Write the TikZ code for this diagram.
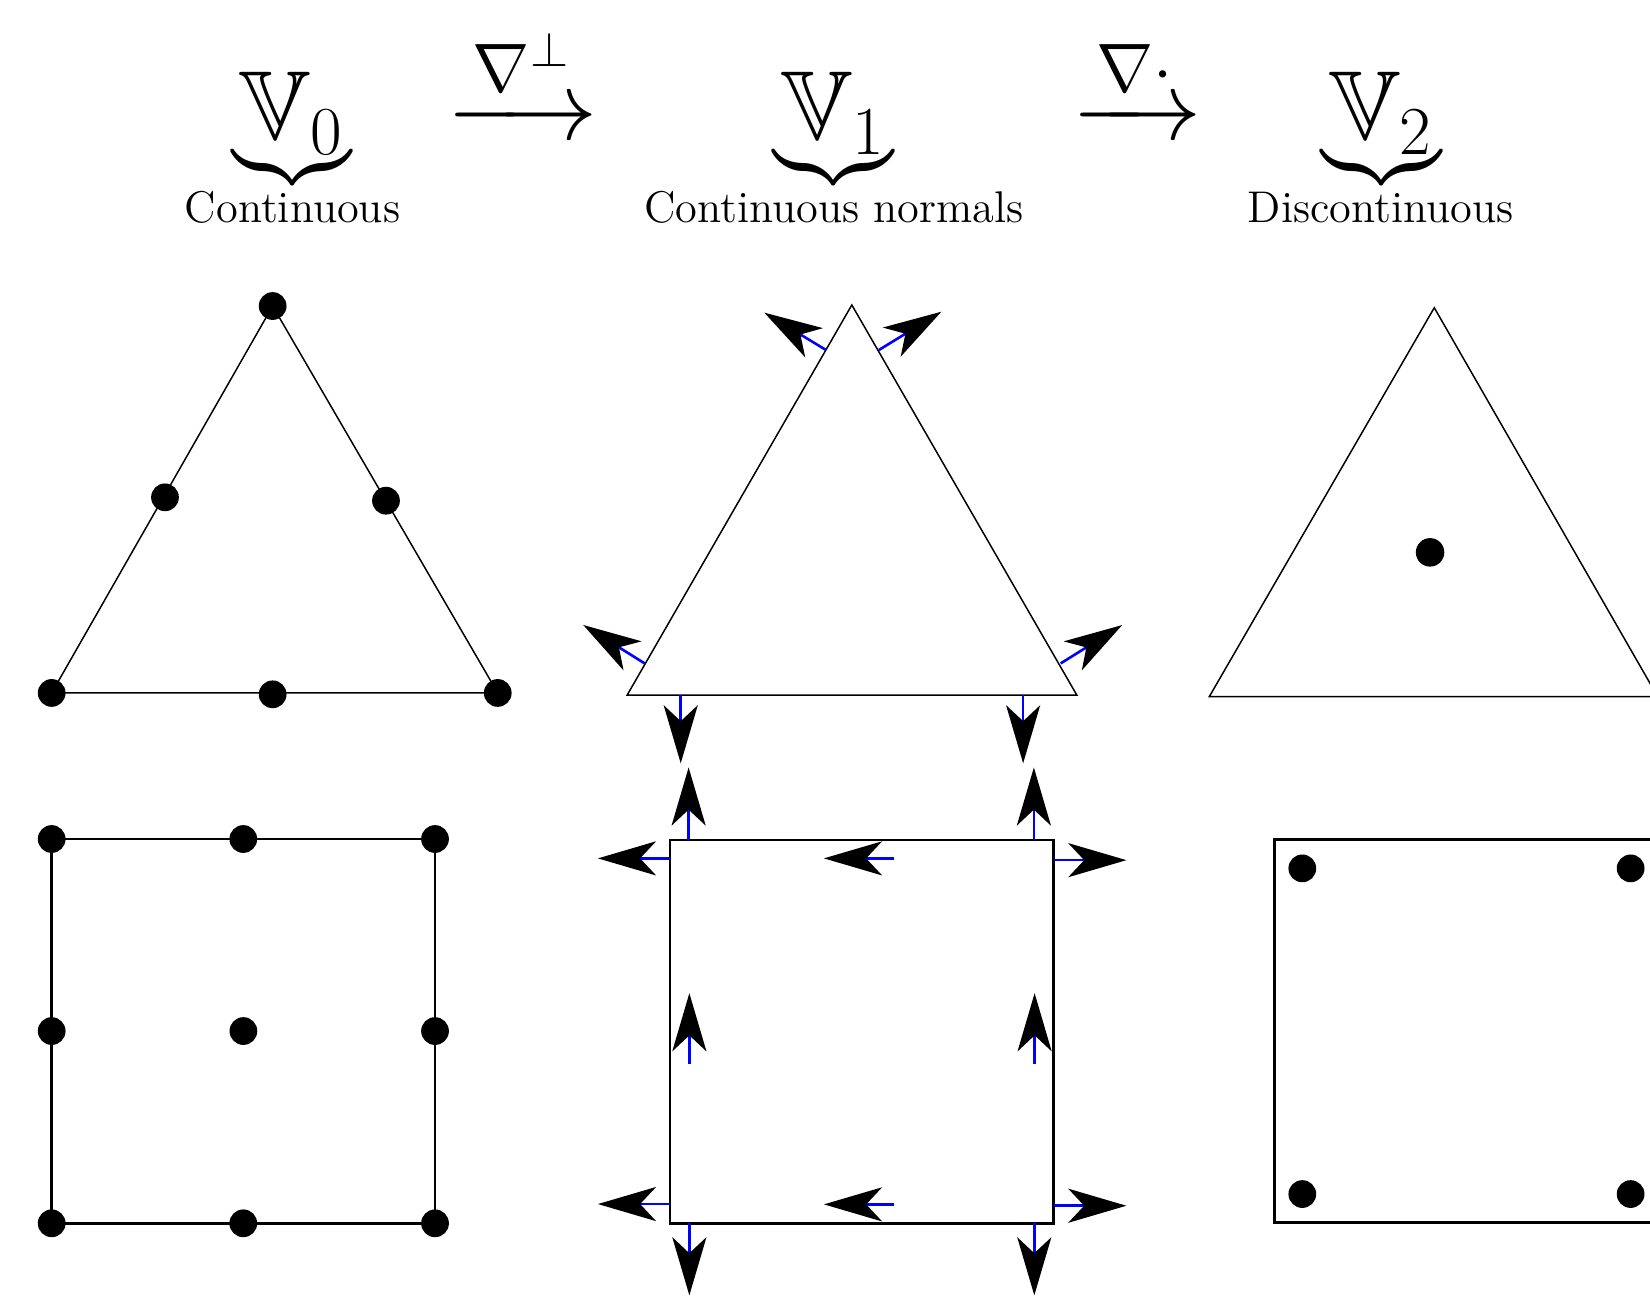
\RequirePackage{fix-cm}
\documentclass[tikz,border=0pt]{standalone}
\usepackage{amsmath,amssymb}
\usetikzlibrary{arrows.meta}
\begin{document}
\begin{tikzpicture}[x=0.01cm,y=-0.01cm,
  tri/.style={line width=0.4pt, line join=miter},
  sq/.style={line width=0.75pt},
  dot/.style={circle, fill=black, draw=none, inner sep=0pt, minimum size=7.5pt},
  nrm/.style={draw=blue, line width=0.7pt, -{Stealth[length=15.7pt, width=9.2pt, inset=4.3pt, black]}},
  mth/.style={font=\fontsize{26.5}{30}\selectfont, anchor=base, inner sep=0pt},
  brc/.style={font=\fontsize{18}{20}\selectfont, anchor=base, inner sep=0pt},
  lbl/.style={font=\fontsize{12}{14}\selectfont, anchor=base, inner sep=0pt}]
\useasboundingbox (0,0) rectangle (1568,1232);
\clip (0,0) rectangle (1568,1232);

% ---------- top row ----------
\node[mth] (V0) at (277.5,133) {$\mathbb{V}_0$};
\node[brc] (B0) at (277.5,145) {$\underbrace{\hbox{}}$};
\node[mth] (d1) at (496.5,133) {$\xrightarrow{\hphantom{\nabla^{\perp}}}$};
\node[mth] (l1) at (495.5,87) {$\scriptstyle\nabla^{\perp}$};
\node[mth] (V1) at (792.5,133) {$\mathbb{V}_1$};
\node[brc] (B1) at (792.5,145) {$\underbrace{\hbox{}}$};
\node[mth] (d2) at (1080.5,133) {$\xrightarrow{\hphantom{\nabla\cdot}}$};
\node[mth] (l2) at (1078.5,87) {$\scriptstyle\nabla\cdot$};
\node[mth] (V2) at (1312.5,133) {$\mathbb{V}_2$};
\node[brc] (B2) at (1312.5,145) {$\underbrace{\hbox{}}$};
\node[lbl] (t0) at (278,211) {Continuous};
\node[lbl] (t1) at (792.5,211) {Continuous normals};
\node[lbl] (t2) at (1312,211) {Discontinuous};

% ---------- V0 triangle ----------
\coordinate (a0) at (259.1,290.8);
\coordinate (b0) at (49.1,658.5);
\coordinate (c0) at (473,658.5);
\draw[tri] (a0) -- (b0) -- (c0) -- cycle;
\node[dot] (pa0) at (a0) {};
\node[dot] (pb0) at (b0) {};
\node[dot] (pc0) at (c0) {};
\node[dot] (pl0) at (156.8,472.6) {};
\node[dot] (pr0) at (366.8,475.8) {};
\node[dot] (pm0) at (259.1,659.8) {};

% ---------- V0 square ----------
\draw[sq] (49.1,797.3) rectangle (413.4,1162.5);
\node[dot] (q1) at (49.1,797.3) {};
\node[dot] (q2) at (231.2,797.3) {};
\node[dot] (q3) at (413.4,797.3) {};
\node[dot] (q4) at (49.1,979.8) {};
\node[dot] (q5) at (231.3,979.8) {};
\node[dot] (q6) at (413.4,979.8) {};
\node[dot] (q7) at (49.1,1162.5) {};
\node[dot] (q8) at (231.2,1162.5) {};
\node[dot] (q9) at (413.4,1162.5) {};

% ---------- V1 triangle ----------
\coordinate (a1) at (809.5,289.8);
\coordinate (b1) at (596,660.5);
\coordinate (c1) at (1023.3,660.5);
\draw[tri] (a1) -- (b1) -- (c1) -- cycle;
\coordinate (n1s) at (785.0,332.6);  \coordinate (n1e) at (726.3,297.1);
\coordinate (n2s) at (835.2,332.6);  \coordinate (n2e) at (894.6,296.2);
\coordinate (n3s) at (612.6,630.4);  \coordinate (n3e) at (554.2,593.9);
\coordinate (n4s) at (1008,630.4);   \coordinate (n4e) at (1066.4,594);
\coordinate (n5s) at (646.9,660.5);  \coordinate (n5e) at (646.9,725.4);
\coordinate (n6s) at (972.3,660.5);  \coordinate (n6e) at (972.3,725.4);
\foreach \i in {1,...,6} {\draw[nrm] (n\i s) -- (n\i e);}

% ---------- V1 square ----------
\draw[sq] (636.7,798.2) rectangle (1001.5,1162.4);
\coordinate (m1s) at (654.4,798.2);  \coordinate (m1e) at (654.4,729.3);
\coordinate (m2s) at (982.5,798.2);  \coordinate (m2e) at (982.5,729.3);
\coordinate (m3s) at (636.7,815.7);  \coordinate (m3e) at (568.2,815.7);
\coordinate (m4s) at (1001.5,817.4); \coordinate (m4e) at (1070.4,817.4);
\coordinate (m5s) at (849.9,815.7);  \coordinate (m5e) at (783,815.7);
\coordinate (m6s) at (655.1,1010.7); \coordinate (m6e) at (655.1,943.8);
\coordinate (m7s) at (983.2,1010.7); \coordinate (m7e) at (983.2,943.8);
\coordinate (m8s) at (636.7,1144.2); \coordinate (m8e) at (568.2,1144.2);
\coordinate (m9s) at (849.9,1144.5); \coordinate (m9e) at (783,1144.5);
\coordinate (m10s) at (1001.5,1145.8); \coordinate (m10e) at (1070.4,1145.8);
\coordinate (m11s) at (655.1,1162.4); \coordinate (m11e) at (655.1,1231);
\coordinate (m12s) at (982.9,1162.4); \coordinate (m12e) at (982.9,1231);
\foreach \i in {1,...,12} {\draw[nrm] (m\i s) -- (m\i e);}

% ---------- V2 triangle ----------
\coordinate (a2) at (1363,292.4);
\coordinate (b2) at (1149.2,662);
\coordinate (c2) at (1575.3,662);
\draw[tri] (a2) -- (b2) -- (c2) -- cycle;
\node[dot, minimum size=7.7pt] (pc2) at (1359,524.9) {};

% ---------- V2 square ----------
\draw[sq] (1211,797.6) rectangle (1575.3,1161.9);
\node[dot] (s1) at (1237.6,825.2) {};
\node[dot] (s2) at (1549.6,825.2) {};
\node[dot] (s3) at (1237.6,1134.7) {};
\node[dot] (s4) at (1549.6,1134.7) {};
\end{tikzpicture}
\end{document}
